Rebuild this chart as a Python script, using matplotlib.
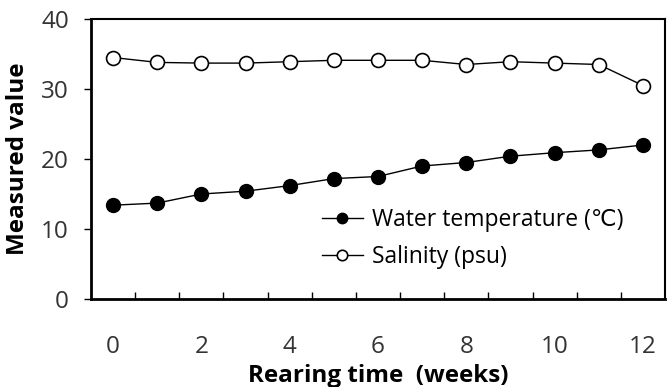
import matplotlib
matplotlib.use("Agg")
import matplotlib.pyplot as plt
import numpy as np

plt.rcParams['font.family'] = ['Open Sans', 'DejaVu Sans']

# data
weeks = [0, 1, 2, 3, 4, 5, 6, 7, 8, 9, 10, 11, 12]
water_temp = [13.4, 13.7, 15.0, 15.4, 16.2, 17.2, 17.5, 19.0, 19.5, 20.4, 20.9, 21.3, 22.0]
salinity = [34.5, 33.8, 33.7, 33.7, 33.9, 34.1, 34.1, 34.1, 33.5, 33.9, 33.7, 33.5, 30.5]
x_ticklabels = ['0', '2', '4', '6', '8', '10', '12']
y_ticks = [0, 10, 20, 30, 40]

fig = plt.figure(figsize=(6.68, 3.87), dpi=100)
ax = fig.add_axes([91 / 668, 1 - 299 / 387, (665 - 91) / 668, (299 - 19) / 387])

ax.plot(weeks, water_temp, color='black', lw=1, marker='o', ms=10,
        mfc='black', mec='black', label='Water temperature (\u2103)')
ax.plot(weeks, salinity, color='black', lw=1, marker='o', ms=10,
        mfc='white', mec='black', mew=1.2, label='Salinity (psu)')

ax.set_xlim(-0.5, 12.5)
ax.set_ylim(0, 40)

# category style x axis: labels on points, tick marks between them
ax.set_xticks(weeks[::2])
ax.set_xticklabels(x_ticklabels)
ax.set_xticks(np.arange(0.5, 12, 1), minor=True)
ax.tick_params(axis='x', which='major', length=0, pad=26, labelsize=17.5)
ax.tick_params(axis='x', which='minor', direction='in', length=5, width=1)

ax.set_yticks(y_ticks)
ax.tick_params(axis='y', direction='out', length=5, width=1, pad=11, labelsize=17.5)
for lab in ax.get_xticklabels() + ax.get_yticklabels():
    lab.set_color('#333333')

for side in ['left', 'bottom']:
    ax.spines[side].set_linewidth(2)
for side in ['top', 'right']:
    ax.spines[side].set_linewidth(1.5)

ax.set_ylabel('Measured value', fontsize=17.5, fontweight='bold')
ax.set_xlabel('Rearing time  (weeks)', fontsize=17.5, fontweight='bold')
ax.yaxis.set_label_coords(-0.107, 0.5)
ax.xaxis.set_label_coords(0.5, -0.232)

ax.legend(loc='lower right', bbox_to_anchor=(0.964, 0.035), frameon=False,
          fontsize=16.5, handlelength=1.8, handletextpad=0.4, labelspacing=0.55,
          markerscale=0.75)

fig.savefig('out.png', dpi=100, facecolor='white')
